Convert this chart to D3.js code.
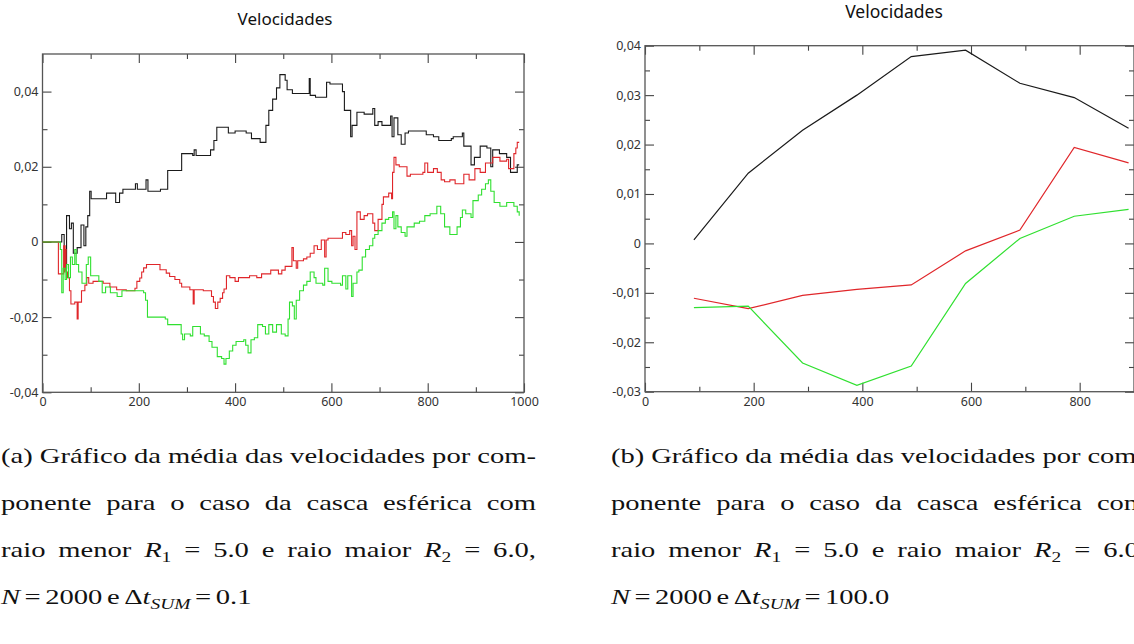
<!DOCTYPE html>
<html>
<head>
<meta charset="utf-8">
<script src="https://cdn.jsdelivr.net/npm/d3@7"></script>
<style>
  body { margin: 0; background: #fff; }
  svg { display: block; }
  .tick text { font-family: "Noto Sans", "Open Sans", sans-serif; font-size: 12.5px; fill: #333; }
  .cap text { font-family: "Liberation Serif", "Times New Roman", "DejaVu Serif", serif; font-size: 22px; fill: #111; }
</style>
</head>
<body>
<svg width="1134" height="644"></svg>
<script>
"use strict";

// ---- painel (a): médias por componente, dt = 0.1 (degraus [passo, valor]) ----
const blackSteps = [[0,0],[40,0.002],[45,-0.007],[50,0.007],[56,0.0035],[60,0.005],[64,-0.003],[72,-0.0015],[80,0.0045],[86,-0.001],[90,0.004],[94,0.007],[98,0.0135],[101,0.0115],[133,0.013],[152,0.0105],[160,0.013],[167,0.014],[193,0.0155],[197,0.014],[215,0.0165],[219,0.0135],[245,0.014],[260,0.019],[289,0.0235],[312,0.023],[315,0.0245],[319,0.023],[349,0.0245],[356,0.027],[362,0.0305],[386,0.029],[400,0.0295],[423,0.029],[434,0.0275],[452,0.0265],[464,0.031],[470,0.035],[478,0.038],[486,0.041],[493,0.0445],[504,0.043],[508,0.0405],[519,0.0395],[554,0.0435],[556,0.039],[567,0.0385],[590,0.0425],[597,0.042],[623,0.04],[627,0.035],[640,0.028],[643,0.031],[653,0.0345],[668,0.034],[686,0.0355],[690,0.031],[697,0.032],[705,0.031],[723,0.0335],[726,0.028],[730,0.033],[738,0.0285],[745,0.026],[753,0.029],[760,0.0295],[797,0.0285],[812,0.028],[823,0.027],[849,0.0275],[853,0.028],[872,0.029],[875,0.0255],[890,0.0205],[897,0.0225],[909,0.0255],[923,0.025],[931,0.02],[935,0.0245],[949,0.0235],[964,0.0225],[972,0.0185],[986,0.0205],[990,0.0205]];

const redSteps = [[0,0],[33,-0.0085],[44,-0.001],[45,-0.008],[46,-0.001],[47,-0.0075],[48,-0.002],[49,-0.008],[52,-0.0095],[56,-0.013],[59,-0.0165],[67,-0.016],[72,-0.0205],[74,-0.016],[81,-0.013],[88,-0.0115],[92,-0.0095],[96,-0.011],[105,-0.0105],[126,-0.011],[140,-0.012],[154,-0.0127],[174,-0.013],[192,-0.0123],[196,-0.0105],[202,-0.0096],[206,-0.008],[210,-0.0069],[216,-0.006],[244,-0.0074],[257,-0.0083],[264,-0.0092],[275,-0.01],[285,-0.011],[289,-0.012],[306,-0.0127],[313,-0.0165],[315,-0.0127],[334,-0.013],[351,-0.0145],[355,-0.016],[359,-0.0177],[364,-0.016],[369,-0.015],[374,-0.0135],[377,-0.0125],[382,-0.009],[389,-0.0095],[400,-0.0105],[407,-0.0095],[430,-0.009],[445,-0.0095],[455,-0.0085],[467,-0.0085],[474,-0.0075],[490,-0.0085],[497,-0.0075],[504,-0.0065],[518,-0.0015],[521,-0.005],[527,-0.007],[530,-0.005],[542,-0.0045],[549,-0.004],[556,-0.003],[564,-0.001],[571,-0.002],[579,0.0005],[586,-0.004],[589,0.0005],[593,0.001],[623,0.0025],[630,0.002],[638,0.003],[642,-0.001],[645,0.0015],[649,-0.002],[653,0.008],[660,0.006],[668,0.007],[675,0.0075],[686,0.005],[690,0.003],[697,0.006],[705,0.01],[708,0.012],[719,0.013],[725,0.0115],[727,0.0185],[730,0.0225],[734,0.0205],[741,0.02],[757,0.0175],[764,0.018],[790,0.0185],[794,0.021],[800,0.0185],[812,0.0195],[820,0.0185],[828,0.0165],[835,0.016],[846,0.0165],[857,0.0155],[875,0.018],[886,0.0165],[898,0.0195],[909,0.0185],[920,0.021],[935,0.0225],[950,0.0215],[964,0.022],[968,0.0195],[979,0.0235],[983,0.025],[986,0.0265],[990,0.0265]];

const greenSteps = [[0,0],[37,-0.002],[40,-0.0135],[43,-0.007],[47,-0.01],[50,-0.006],[54,-0.0095],[58,-0.004],[62,-0.006],[67,-0.002],[70,-0.006],[75,-0.008],[82,-0.011],[91,-0.006],[95,-0.004],[100,-0.009],[117,-0.0105],[124,-0.0135],[131,-0.012],[141,-0.0135],[155,-0.0145],[165,-0.013],[190,-0.013],[210,-0.0135],[214,-0.0155],[218,-0.02],[255,-0.0205],[260,-0.022],[288,-0.0245],[291,-0.026],[295,-0.0245],[307,-0.025],[312,-0.0225],[328,-0.0245],[336,-0.025],[346,-0.0265],[352,-0.028],[363,-0.0305],[372,-0.031],[377,-0.0325],[381,-0.031],[388,-0.029],[395,-0.0275],[402,-0.0265],[418,-0.026],[422,-0.0275],[427,-0.0295],[433,-0.026],[440,-0.0255],[447,-0.022],[457,-0.0225],[463,-0.0245],[470,-0.022],[478,-0.024],[486,-0.022],[496,-0.0245],[504,-0.025],[510,-0.0205],[513,-0.016],[519,-0.017],[523,-0.0205],[527,-0.0155],[534,-0.013],[542,-0.0115],[549,-0.0105],[556,-0.008],[564,-0.0095],[568,-0.011],[582,-0.0115],[586,-0.007],[593,-0.0105],[601,-0.011],[619,-0.0115],[623,-0.009],[630,-0.0125],[634,-0.009],[642,-0.0145],[645,-0.011],[653,-0.008],[657,-0.0075],[664,-0.004],[671,-0.002],[679,-0.001],[686,0.001],[690,0.002],[697,0.003],[705,0.005],[712,0.006],[719,0.0065],[727,0.008],[730,0.0035],[734,0.007],[738,0.004],[745,0.0025],[753,0.0015],[757,0.004],[772,0.005],[783,0.0055],[794,0.007],[805,0.0075],[819,0.0095],[827,0.0075],[835,0.004],[846,0.002],[861,0.004],[868,0.0065],[872,0.0085],[879,0.0075],[890,0.0065],[894,0.011],[905,0.0125],[912,0.014],[920,0.0155],[926,0.0165],[931,0.0135],[938,0.0105],[950,0.0095],[964,0.0105],[979,0.0095],[986,0.008],[990,0.007]];

const leftXMajor = [0, 200, 400, 600, 800, 1000];
const leftXMinor = [100, 300, 500, 700, 900];
const leftYMajor = [-0.04, -0.02, 0, 0.02, 0.04];
const leftYMinor = [-0.03, -0.01, 0.01, 0.03];

// ---- painel (b): dt = 100 ----
const rightX = [90, 190, 290, 390, 490, 590, 690, 790, 890];
const rightBlack = [0.0007, 0.0142, 0.0229, 0.030, 0.0378, 0.0391, 0.0324, 0.0295, 0.0233];
const rightRed = [-0.0111, -0.0132, -0.0105, -0.0093, -0.0084, -0.0015, 0.0027, 0.0194, 0.0163];
const rightGreen = [-0.0130, -0.0127, -0.0242, -0.0287, -0.0248, -0.0081, 0.0010, 0.0055, 0.0069];

const rightXMajor = [0, 200, 400, 600, 800];
const rightXMinor = [100, 300, 500, 700, 900];
const rightYMajor = [-0.03, -0.02, -0.01, 0, 0.01, 0.02, 0.03, 0.04];
const rightYMinor = [-0.025, -0.015, -0.005, 0.005, 0.015, 0.025, 0.035];

const titleText = "Velocidades";
const colors = { black: "#1a1a1a", red: "#e0262a", green: "#30e030" };

// legendas (cada palavra: texto simples ou lista de [texto, estilo])
const captionA = [
  ["(a)", "Gráfico", "da", "média", "das", "velocidades", "por", "com-"],
  ["ponente", "para", "o", "caso", "da", "casca", "esférica", "com"],
  ["raio", "menor", [["R", "i"], ["1", "sub"]], "=", "5.0", "e", "raio", "maior", [["R", "i"], ["2", "sub"]], "=", "6.0,"],
  [[["N", "i"]], "=", "2000", "e", [["Δ", ""], ["t", "i"], ["SUM", "isub"]], "=", "0.1"]
];
const captionB = [
  ["(b)", "Gráfico", "da", "média", "das", "velocidades", "por", "com-"],
  ["ponente", "para", "o", "caso", "da", "casca", "esférica", "com"],
  ["raio", "menor", [["R", "i"], ["1", "sub"]], "=", "5.0", "e", "raio", "maior", [["R", "i"], ["2", "sub"]], "=", "6.0,"],
  [[["N", "i"]], "=", "2000", "e", [["Δ", ""], ["t", "i"], ["SUM", "isub"]], "=", "100.0"]
];

const svg = d3.select("svg");
const fmt = d3.formatLocale({ decimal: ",", thousands: ".", grouping: [3], currency: ["", ""], minus: "-" });
const yFmt = (d) => (d === 0 ? "0" : fmt.format(".2f")(d));

function drawFrame(g, x, y, t) {
  const [x0, x1] = x.range();
  const [yb, yt] = y.range();
  const clean = (s) => s.select(".domain").remove();

  // baixo (com rótulos) e cima
  g.append("g").attr("transform", `translate(0,${yb})`)
    .call(d3.axisBottom(x).tickValues(t.xMajor).tickSize(-9).tickPadding(5).tickFormat(d3.format("d"))).call(clean);
  g.append("g").attr("transform", `translate(0,${yb})`)
    .call(d3.axisBottom(x).tickValues(t.xMinor).tickSize(-5).tickFormat("")).call(clean);
  g.append("g").attr("transform", `translate(0,${yt})`)
    .call(d3.axisTop(x).tickValues(t.xMajor).tickSize(-9).tickFormat("")).call(clean);
  g.append("g").attr("transform", `translate(0,${yt})`)
    .call(d3.axisTop(x).tickValues(t.xMinor).tickSize(-5).tickFormat("")).call(clean);

  // esquerda (com rótulos) e direita
  g.append("g").attr("transform", `translate(${x0},0)`)
    .call(d3.axisLeft(y).tickValues(t.yMajor).tickSize(-9).tickPadding(4).tickFormat(yFmt)).call(clean);
  g.append("g").attr("transform", `translate(${x0},0)`)
    .call(d3.axisLeft(y).tickValues(t.yMinor).tickSize(-5).tickFormat("")).call(clean);
  g.append("g").attr("transform", `translate(${x1},0)`)
    .call(d3.axisRight(y).tickValues(t.yMajor).tickSize(-9).tickFormat("")).call(clean);
  g.append("g").attr("transform", `translate(${x1},0)`)
    .call(d3.axisRight(y).tickValues(t.yMinor).tickSize(-5).tickFormat("")).call(clean);

  g.selectAll(".tick line").attr("stroke", "#444").attr("stroke-width", 1.1);

  g.append("rect")
    .attr("x", x0).attr("y", yt)
    .attr("width", x1 - x0).attr("height", yb - yt)
    .attr("fill", "none").attr("stroke", "#555").attr("stroke-width", 1.3);
}

function drawTitle(g, x, y, size) {
  g.append("text")
    .attr("x", x).attr("y", y)
    .attr("text-anchor", "middle")
    .style("font-family", "'Noto Sans', 'Open Sans', sans-serif")
    .style("font-size", size + "px")
    .style("fill", "#111")
    .text(titleText);
}

// ---- painel (a) ----
const gA = svg.append("g");
const xA = d3.scaleLinear().domain([0, 1000]).range([42.5, 524]);
const yA = d3.scaleLinear().domain([-0.04, 0.05]).range([392.3, 54]);
const stepLine = d3.line().x((d) => xA(d[0])).y((d) => yA(d[1])).curve(d3.curveStepAfter);

drawFrame(gA, xA, yA, { xMajor: leftXMajor, xMinor: leftXMinor, yMajor: leftYMajor, yMinor: leftYMinor });
[["black", blackSteps], ["red", redSteps], ["green", greenSteps]].forEach(([c, s]) => {
  gA.append("path").datum(s)
    .attr("d", stepLine)
    .attr("fill", "none")
    .attr("stroke", colors[c])
    .attr("stroke-width", 1.1);
});
drawTitle(gA, 285, 25, 17);

// ---- painel (b) ----
const gB = svg.append("g");
const xB = d3.scaleLinear().domain([0, 900]).range([645, 1134]);
const yB = d3.scaleLinear().domain([-0.03, 0.04]).range([391.7, 45.7]);
const polyLine = d3.line().x((d) => xB(d[0])).y((d) => yB(d[1]));

drawFrame(gB, xB, yB, { xMajor: rightXMajor, xMinor: rightXMinor, yMajor: rightYMajor, yMinor: rightYMinor });
[["black", rightBlack], ["red", rightRed], ["green", rightGreen]].forEach(([c, vals]) => {
  gB.append("path").datum(d3.zip(rightX, vals))
    .attr("d", polyLine)
    .attr("fill", "none")
    .attr("stroke", colors[c])
    .attr("stroke-width", 1.2);
});
drawTitle(gB, 894, 18, 17.5);

// ---- legendas, justificadas como no LaTeX ----
// a fonte do LaTeX é mais larga: esticamos na horizontal para que a 1a linha caiba com espaço normal
function drawCaption(lines, x0, width) {
  const baselines = [463, 510, 557, 604];
  const space = 7;
  const lastSpace = 4.5;
  const g = svg.append("g").attr("class", "cap");

  const rows = lines.map((words, li) => {
    const texts = words.map((w) => {
      const t = g.append("text").attr("y", baselines[li]);
      const segs = typeof w === "string" ? [[w, ""]] : w;
      segs.forEach(([s, st]) => {
        const ts = t.append("tspan").text(s);
        if (st.includes("i")) ts.style("font-style", "italic");
        if (st.includes("sub")) ts.attr("dy", 5).style("font-size", "15px");
      });
      return t;
    });
    return { texts, widths: texts.map((t) => t.node().getComputedTextLength()) };
  });

  const first = rows[0];
  const sx = (width - space * (first.texts.length - 1)) / d3.sum(first.widths);
  g.attr("transform", `translate(${x0},0) scale(${sx},1)`);

  rows.forEach((r, li) => {
    const total = d3.sum(r.widths) * sx;
    const justify = li < rows.length - 1;
    const gap = justify ? (width - total) / (r.texts.length - 1) : lastSpace;
    let cx = 0;
    r.texts.forEach((t, i) => {
      t.attr("x", cx / sx);
      cx += r.widths[i] * sx + gap;
    });
  });
}

drawCaption(captionA, 1, 535);
drawCaption(captionB, 611, 535);
</script>
</body>
</html>
